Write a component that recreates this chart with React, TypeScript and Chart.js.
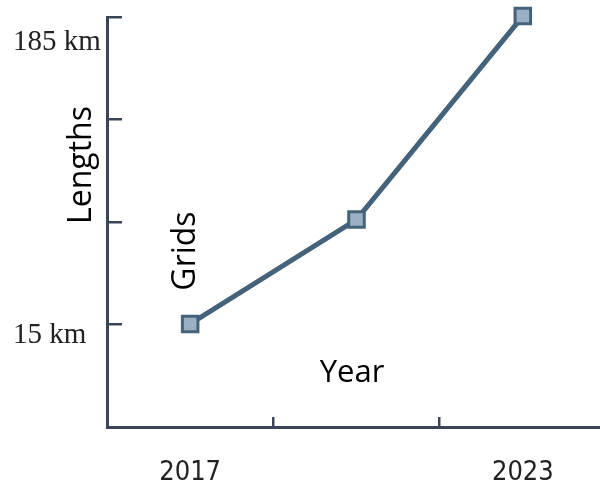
import React, { useEffect, useRef } from "react";
import { Chart, registerables } from "chart.js";

Chart.register(...registerables);

const categories = ["2017", "2020", "2023"];
const xTickLabels = ["2017", "", "2023"];
const lengths = [15.3, 73, 185.5];
const yTickValues = [-41.67, 15, 71.67, 128.33, 185];
const yLabelValues = [15, 177];
const yLabelTexts = ["15 km", "185 km"];

const AXIS = "#3a4658";
const LINE = "#44637a";
const FILL = "#9ab0c4";

const titlePlugin = {
  id: "freeTitles",
  afterDraw(chart: any) {
    const ctx = chart.ctx;
    ctx.save();
    ctx.fillStyle = "#000000";
    ctx.font = "31px 'Open Sans'";
    ctx.textAlign = "center";
    ctx.textBaseline = "middle";
    ctx.fillText("Year", 352, 373);
    const rot = (t: string, x: number, y: number) => {
      ctx.save();
      ctx.translate(x, y);
      ctx.rotate(-Math.PI / 2);
      ctx.fillText(t, 0, 0);
      ctx.restore();
    };
    ctx.font = "32px 'Open Sans'";
    rot("Lengths", 82, 165);
    rot("Grids", 186, 251);
    ctx.restore();
  },
};

export default function App() {
  const ref = useRef<HTMLCanvasElement | null>(null);
  useEffect(() => {
    if (!ref.current) return;
    const yMin = yTickValues[0];
    const yMax = yTickValues[yTickValues.length - 1];
    const chart = new Chart(ref.current, {
      type: "line",
      data: {
        labels: categories,
        datasets: [
          {
            data: lengths,
            yAxisID: "y",
            borderColor: LINE,
            borderWidth: 5,
            backgroundColor: FILL,
            pointStyle: "rect",
            pointRadius: 11,
            pointBorderWidth: 3,
            pointBackgroundColor: FILL,
            pointBorderColor: LINE,
            clip: false,
            tension: 0,
          } as any,
        ],
      },
      options: {
        animation: false,
        responsive: true,
        maintainAspectRatio: false,
        layout: { padding: { left: 13, top: 17, right: 13, bottom: 0 } },
        plugins: { legend: { display: false }, tooltip: { enabled: false } },
        scales: {
          x: {
            type: "category",
            offset: true,
            grid: {
              offset: true,
              drawOnChartArea: false,
              drawTicks: true,
              tickLength: -10,
              color: AXIS,
              lineWidth: 2.5,
            },
            border: { display: true, color: AXIS, width: 3 },
            ticks: {
              autoSkip: false,
              maxRotation: 0,
              padding: 40,
              color: "#222222",
              font: { family: "'DejaVu Sans Condensed', 'Liberation Sans Narrow', sans-serif", size: 27 },
              callback: (_v: any, i: number) => xTickLabels[i],
            },
            afterFit: (s: any) => {
              s.height = 73;
              s.paddingLeft = 0;
              s.paddingRight = 0;
            },
          },
          yLabels: {
            type: "linear",
            position: "left",
            weight: 1,
            min: yMin,
            max: yMax,
            afterBuildTicks: (s: any) => {
              s.ticks = yLabelValues.map((v) => ({ value: v }));
            },
            grid: { display: false, drawTicks: false },
            border: { display: false },
            ticks: {
              autoSkip: false,
              crossAlign: "far",
              labelOffset: 11,
              padding: 0,
              color: "#222222",
              font: { family: "'Liberation Serif', serif", size: 29 },
              callback: (_v: any, i: number) => yLabelTexts[i],
            },
            afterFit: (s: any) => {
              s.width = 94;
              s.paddingTop = 0;
              s.paddingBottom = 0;
            },
          },
          y: {
            type: "linear",
            position: "left",
            weight: 0,
            min: yMin,
            max: yMax,
            afterBuildTicks: (s: any) => {
              s.ticks = yTickValues.map((v) => ({ value: v }));
            },
            grid: {
              drawOnChartArea: false,
              drawTicks: true,
              tickLength: -15,
              color: AXIS,
              lineWidth: 2.5,
            },
            border: { display: true, color: AXIS, width: 3 },
            ticks: { display: false },
            afterFit: (s: any) => {
              s.width = 0;
              s.paddingTop = 0;
              s.paddingBottom = 0;
            },
          },
        },
      },
      plugins: [titlePlugin],
    });
    return () => chart.destroy();
  }, []);
  return (
    <div style={{ position: "fixed", left: 0, top: 0, width: 600, height: 482, overflow: "hidden", background: "#fff" }}>
      <div style={{ position: "relative", width: 620, height: 500 }}>
        <canvas ref={ref} />
      </div>
    </div>
  );
}
